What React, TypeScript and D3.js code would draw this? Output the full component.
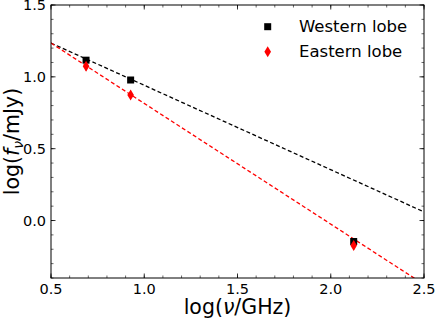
import React from 'react';
import * as d3 from 'd3';

// log frequency (GHz) of the three bands
const freqs = [0.688, 0.927, 2.123];
const westernFlux = [1.116, 0.978, -0.146];
const easternFlux = [1.074, 0.873, -0.174];
const easternErr = [0.03, 0.02, 0.03];

// power-law fit endpoints
const fitX = [0.5, 2.5];
const westernFit = [1.235, 0.06];
const easternFit = [1.235, -0.445];

const xTicks = [0.5, 1.0, 1.5, 2.0, 2.5];
const yTicks = [0.0, 0.5, 1.0, 1.5];

const W = 436;
const H = 320;
const m = { left: 51, right: 12, top: 5, bottom: 42 };

const App = () => {
  const iw = W - m.left - m.right;
  const ih = H - m.top - m.bottom;

  const x = d3.scaleLinear().domain([0.5, 2.5]).range([0, iw]);
  const y = d3.scaleLinear().domain([-0.4, 1.5]).range([ih, 0]);

  const minorX = d3.range(0.5, 2.501, 0.1);
  const minorY = d3.range(-0.4, 1.501, 0.1);

  const line = d3
    .line<[number, number]>()
    .x((d) => x(d[0]))
    .y((d) => y(d[1]));

  const westPts: [number, number][] = fitX.map((v, i) => [v, westernFit[i]]);
  const eastPts: [number, number][] = fitX.map((v, i) => [v, easternFit[i]]);

  const font = 'DejaVu Sans, sans-serif';
  const diamond = 'M0,-5.5L3.3,0L0,5.5L-3.3,0Z';

  // legend positions in plot coords
  const legX = 216.7;
  const legTextX = 248;

  return (
    <svg width={W} height={H} style={{ position: 'absolute', left: 0, top: 0 }}>
      <defs>
        <clipPath id="plot">
          <rect x={0} y={0} width={iw} height={ih} />
        </clipPath>
      </defs>
      <g transform={`translate(${m.left},${m.top})`}>
        <g clipPath="url(#plot)">
          <path d={line(westPts) || ''} fill="none" stroke="#000" strokeWidth={1.3} strokeDasharray="4,2.5" />
          <path d={line(eastPts) || ''} fill="none" stroke="#ff0000" strokeWidth={1.3} strokeDasharray="4,2.5" />
          {freqs.map((f, i) => (
            <rect key={'w' + i} x={x(f) - 3.5} y={y(westernFlux[i]) - 3.5} width={7} height={7} fill="#000" />
          ))}
          {freqs.map((f, i) => (
            <g key={'e' + i}>
              <line
                x1={x(f)}
                x2={x(f)}
                y1={y(easternFlux[i] - easternErr[i])}
                y2={y(easternFlux[i] + easternErr[i])}
                stroke="#ff0000"
                strokeWidth={1.2}
              />
              <path d={diamond} transform={`translate(${x(f)},${y(easternFlux[i])})`} fill="#ff0000" />
            </g>
          ))}
        </g>

        {/* minor ticks, all four sides, pointing in */}
        {minorX.map((v, i) => (
          <g key={'mx' + i} stroke="#000" strokeWidth={0.6}>
            <line x1={x(v)} x2={x(v)} y1={ih} y2={ih - 2.5} />
            <line x1={x(v)} x2={x(v)} y1={0} y2={2.5} />
          </g>
        ))}
        {minorY.map((v, i) => (
          <g key={'my' + i} stroke="#000" strokeWidth={0.6}>
            <line x1={0} x2={2.5} y1={y(v)} y2={y(v)} />
            <line x1={iw} x2={iw - 2.5} y1={y(v)} y2={y(v)} />
          </g>
        ))}
        {xTicks.map((v) => (
          <g key={'x' + v} stroke="#000" strokeWidth={0.8}>
            <line x1={x(v)} x2={x(v)} y1={ih} y2={ih - 4.5} />
            <line x1={x(v)} x2={x(v)} y1={0} y2={4.5} />
          </g>
        ))}
        {yTicks.map((v) => (
          <g key={'y' + v} stroke="#000" strokeWidth={0.8}>
            <line x1={0} x2={4.5} y1={y(v)} y2={y(v)} />
            <line x1={iw} x2={iw - 4.5} y1={y(v)} y2={y(v)} />
          </g>
        ))}

        <rect x={0} y={0} width={iw} height={ih} fill="none" stroke="#000" strokeWidth={1} />

        {xTicks.map((v) => (
          <text key={'xl' + v} x={x(v)} y={ih + 16} textAnchor="middle" fontFamily={font} fontSize={14.5}>
            {v.toFixed(1)}
          </text>
        ))}
        {yTicks.map((v) => (
          <text key={'yl' + v} x={-5} y={y(v)} dy="0.35em" textAnchor="end" fontFamily={font} fontSize={14.5}>
            {v.toFixed(1)}
          </text>
        ))}

        <text x={iw / 2} y={ih + 36} textAnchor="middle" fontFamily={font} fontSize={20.5}>
          log(<tspan fontStyle="italic">ν</tspan>/GHz)
        </text>
        <text
          transform={`translate(${-m.left + 19},${ih / 2}) rotate(-90)`}
          textAnchor="middle"
          fontFamily={font}
          fontSize={20.5}
        >
          log(<tspan fontStyle="italic">f</tspan>
          <tspan fontStyle="italic" fontSize={14} dy={4}>ν</tspan>
          <tspan dy={-4}>/mJy)</tspan>
        </text>

        {/* legend */}
        <rect x={legX - 3.5} y={21.7 - 3.5} width={7} height={7} fill="#000" />
        <text x={legTextX} y={21.7} dy="0.35em" fontFamily={font} fontSize={16.5}>
          Western lobe
        </text>
        <path d={diamond} transform={`translate(${legX},${46.7})`} fill="#ff0000" />
        <text x={legTextX} y={46.7} dy="0.35em" fontFamily={font} fontSize={16.5}>
          Eastern lobe
        </text>
      </g>
    </svg>
  );
};

export default App;
